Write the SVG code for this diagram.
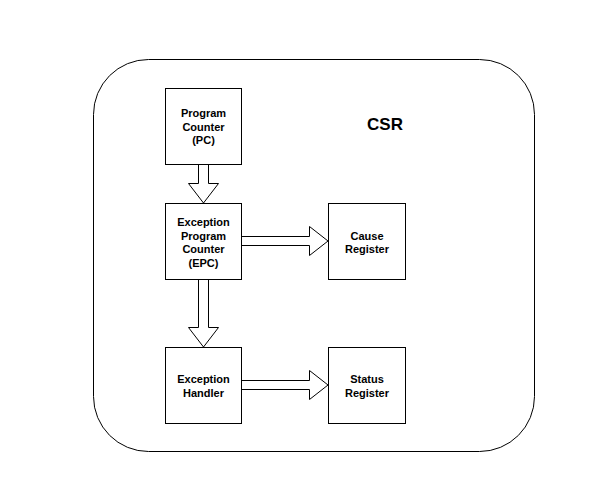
<svg xmlns="http://www.w3.org/2000/svg" width="602" height="488" viewBox="0 0 602 488">
<style>
.box{fill:#fff;stroke:#000;stroke-width:1}
.t{font-family:"Liberation Sans",Arial,sans-serif;font-weight:bold;font-size:11px;text-anchor:middle;fill:#000}
.arr{fill:#fff;stroke:#000;stroke-width:1;stroke-linejoin:miter}
</style>
<rect width="602" height="488" fill="#fff"/>
<g id="csr">
<rect x="93.5" y="59.5" width="441" height="392" rx="55" ry="55" fill="#fff" stroke="#000" stroke-width="1"/>
<text x="385" y="130" style="font-family:'Liberation Sans',Arial,sans-serif;font-weight:bold;font-size:17px;text-anchor:middle">CSR</text>
</g>
<g id="connectors">
<path class="arr" d="M198.5,164 V183.5 H188.5 L203.5,203 L218.5,183.5 H208.5 V164"/>
<path class="arr" d="M198.5,279 V327.5 H188.5 L203.5,347 L218.5,327.5 H208.5 V279"/>
<path class="arr" d="M242,236.5 H309.5 V226.5 L328,241 L309.5,255.5 V245.5 H242"/>
<path class="arr" d="M242,380.5 H309.5 V370.5 L328,385 L309.5,399.5 V389.5 H242"/>
</g>
<g id="pc">
<rect class="box" x="165.5" y="88.5" width="76" height="76"/>
<text class="t" x="203.5" y="117">Program</text>
<text class="t" x="203.5" y="130.5">Counter</text>
<text class="t" x="203.5" y="144">(PC)</text>
</g>
<g id="epc">
<rect class="box" x="165.5" y="203.5" width="76" height="76"/>
<text class="t" x="203.5" y="226">Exception</text>
<text class="t" x="203.5" y="239.5">Program</text>
<text class="t" x="203.5" y="253">Counter</text>
<text class="t" x="203.5" y="266.5">(EPC)</text>
</g>
<g id="cause">
<rect class="box" x="328.5" y="203.5" width="77" height="76"/>
<text class="t" x="367" y="239.5">Cause</text>
<text class="t" x="367" y="253">Register</text>
</g>
<g id="handler">
<rect class="box" x="165.5" y="347.5" width="76" height="76"/>
<text class="t" x="203.5" y="383">Exception</text>
<text class="t" x="203.5" y="396.5">Handler</text>
</g>
<g id="status">
<rect class="box" x="328.5" y="347.5" width="77" height="76"/>
<text class="t" x="367" y="383">Status</text>
<text class="t" x="367" y="396.5">Register</text>
</g>
</svg>
